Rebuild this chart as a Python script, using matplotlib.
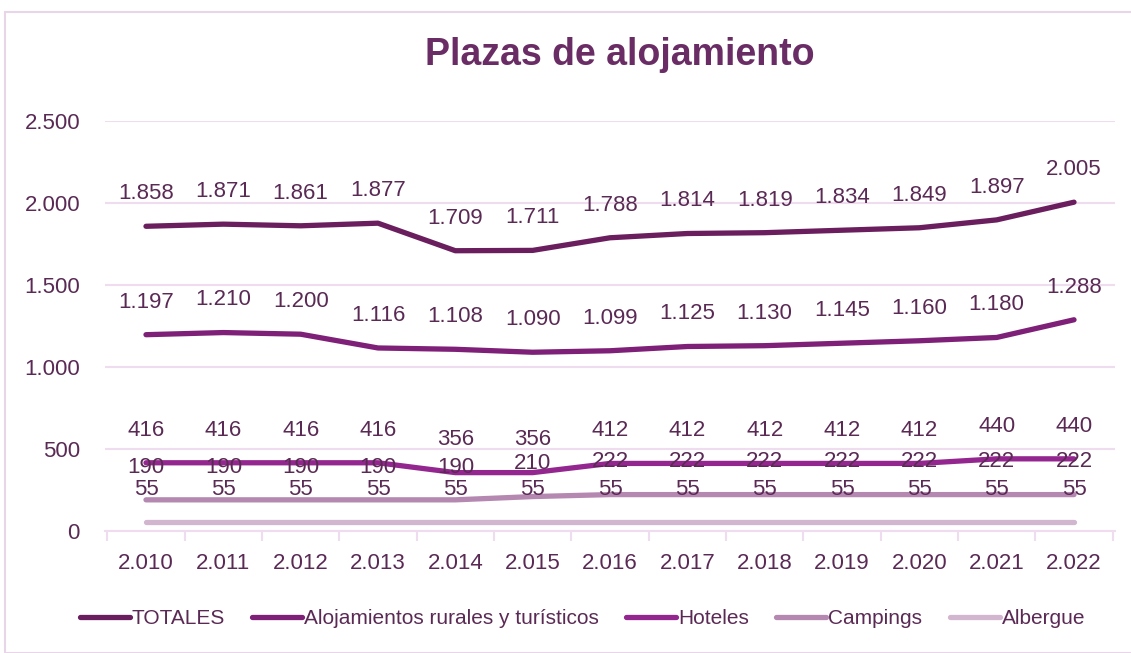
import matplotlib
matplotlib.use('Agg')
import matplotlib.pyplot as plt
from matplotlib.patches import Rectangle
from matplotlib.ticker import FuncFormatter
import numpy as np

# no hay Arial Narrow: Liberation Sans como sustituto
plt.rcParams['font.family'] = ['Liberation Sans', 'DejaVu Sans']

years = ['2.010', '2.011', '2.012', '2.013', '2.014', '2.015', '2.016',
         '2.017', '2.018', '2.019', '2.020', '2.021', '2.022']
totales = [1858, 1871, 1861, 1877, 1709, 1711, 1788, 1814, 1819, 1834, 1849, 1897, 2005]
alojamientos = [1197, 1210, 1200, 1116, 1108, 1090, 1099, 1125, 1130, 1145, 1160, 1180, 1288]
hoteles = [416, 416, 416, 416, 356, 356, 412, 412, 412, 412, 412, 440, 440]
campings = [190, 190, 190, 190, 190, 210, 222, 222, 222, 222, 222, 222, 222]
albergue = [55, 55, 55, 55, 55, 55, 55, 55, 55, 55, 55, 55, 55]

series = [
    ('TOTALES', totales, '#6A1E5E'),
    ('Alojamientos rurales y turísticos', alojamientos, '#7E1F78'),
    ('Hoteles', hoteles, '#94278F'),
    ('Campings', campings, '#B588B1'),
    ('Albergue', albergue, '#D2B5CF'),
]

text_color = '#5A2A55'
grid_color = '#EFDDEF'


def miles(v, pos=None):
    return f'{int(v):,}'.replace(',', '.')


fig = plt.figure(figsize=(11.31, 6.53), dpi=100)
fig.patches.append(Rectangle((5 / 1131, 0), 1.0, 1 - 12 / 653, transform=fig.transFigure,
                             fill=False, edgecolor='#E8D6E8', linewidth=1.5))

ax = fig.add_axes([105 / 1131, 1 - 531 / 653, 1010 / 1131, 410 / 653])
x = np.arange(len(years))

for name, vals, color in series:
    ax.plot(x, vals, color=color, lw=3.8, solid_capstyle='round', label=name, zorder=3)
    for xi, v in zip(x, vals):
        ax.annotate(miles(v), (xi, v), xytext=(0, 23.5), textcoords='offset points',
                    ha='center', va='center', fontsize=16, color=text_color, zorder=4)

ax.set_ylim(0, 2500)
ax.set_xlim(-0.53, len(years) - 0.47)
ax.set_yticks(np.arange(0, 2501, 500))
ax.yaxis.set_major_formatter(FuncFormatter(miles))
ax.set_xticks(x)
ax.set_xticklabels(years)
ax.set_xticks(np.arange(-0.5, len(years)), minor=True)
ax.tick_params(axis='x', which='major', length=0, pad=16, labelsize=16, labelcolor=text_color)
ax.tick_params(axis='x', which='minor', length=7, color=grid_color, width=1.5)
ax.tick_params(axis='y', length=0, pad=18, labelsize=16, labelcolor=text_color)
ax.grid(axis='y', color=grid_color, lw=1.5)
ax.set_axisbelow(True)
for s in ['top', 'right', 'left']:
    ax.spines[s].set_visible(False)
ax.spines['bottom'].set_color(grid_color)
ax.spines['bottom'].set_linewidth(1.5)

fig.text(0.548, 1 - 55 / 653, 'Plazas de alojamiento', ha='center', va='center',
         fontsize=27, fontweight='bold', color='#6A2C64')

fig.legend(loc='center', bbox_to_anchor=(0.515, 1 - 619 / 653), ncol=5, frameon=False,
           fontsize=15, labelcolor=text_color, handlelength=2.4, handletextpad=0.1,
           columnspacing=1.3)

fig.savefig('out.png', dpi=100)
